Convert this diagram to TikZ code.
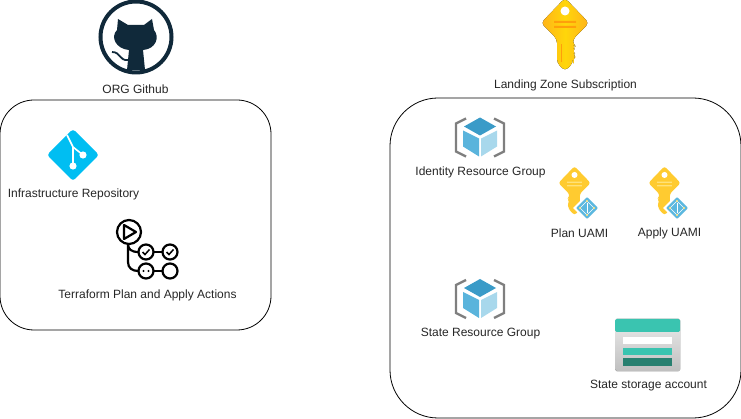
\documentclass[tikz,border=0pt]{standalone}
\usepackage{fontspec}
\setmainfont{Liberation Sans}
\definecolor{catnavy}{HTML}{10293A}
\definecolor{gitblue}{HTML}{00BEF2}
\definecolor{keyorange}{HTML}{FFB21A}
\definecolor{keyyellow}{HTML}{FFD60A}
\definecolor{keystripe}{HTML}{FF9F0A}
\definecolor{uamigold}{HTML}{FFCB30}
\definecolor{uamistripe}{HTML}{FFE27A}
\definecolor{badgeblue}{HTML}{5CB8DF}
\definecolor{cubetop}{HTML}{3A9BC8}
\definecolor{cubeleft}{HTML}{5AB4DC}
\definecolor{cuberight}{HTML}{A8D8EC}
\definecolor{bracketgray}{HTML}{7F7F7F}
\definecolor{storeteal}{HTML}{3AC4B0}
\definecolor{storedark}{HTML}{288070}
\begin{document}
\begin{tikzpicture}[
		x=1pt, y=-1pt,
		groupbox/.style={draw, line width=0.8pt, rounded corners=#1, inner sep=0pt, outer sep=0pt},
		caption/.style={font=\fontsize{12}{14}\selectfont, inner sep=0pt, text=black!85},
		pics/catlogo/.style={code={
				\draw[catnavy, line width=4pt] (0,0) circle (35.5);
				\fill[catnavy] (-18,-18) -- (-8,-12) -- (8,-12) -- (16,-18) -- (18,-7)
				.. controls (24,0) and (20,12) .. (7,13) -- (9,33) -- (-9,33) -- (-7,13)
				.. controls (-20,12) and (-26,0) .. (-19,-7) -- cycle;
				\draw[catnavy, line width=1.8pt] (-24,15) .. controls (-15,15) and (-17,24) .. (-8,23);
			}},
		pics/gitlogo/.style={code={
				\fill[gitblue, rounded corners=3pt] (0,-26) -- (26,0) -- (0,26) -- (-26,0) -- cycle;
				\draw[white, line width=1.6pt] (-6,-20) -- (0,-8) -- (0,11) (0,-8) -- (10,0);
				\fill[white] (0,11) circle (3.6) (10,0) circle (3.6);
			}},
		pics/actionslogo/.style={code={
				\begin{scope}[line width=2.2pt, black]
					\draw (0,0) circle (12);
					\draw[line join=round] (-5,-7) -- (7,0) -- (-5,7) -- cycle;
					\draw (17,20) circle (7.5) (41,20) circle (7.5) (17,39) circle (7.5) (41,39) circle (7.5);
					\draw (-1,12) .. controls (-1,17) and (2,20) .. (9.5,20);
					\draw (-1,12) -- (-1,30) .. controls (-1,36) and (3,39) .. (9.5,39);
					\draw (24.5,20) -- (33.5,20) (24.5,39) -- (33.5,39);
				\end{scope}
				\draw[black, line width=1.5pt] (13.5,20) -- (16,22.5) -- (20.5,17.5);
				\draw[black, line width=1.5pt] (37.5,20) -- (40,22.5) -- (44.5,17.5);
				\fill (14.5,39) circle (1.2) (19.5,39) circle (1.2);
			}},
		pics/keylogo/.style n args={3}{code={
				\fill[#1] (0,-25) -- (24,0) -- (8,16) -- (8,21) -- (11,24) -- (7,28)
				-- (11,32) -- (8,37) -- (8,40) -- (0,48) -- (-8,40) -- (-8,16) -- (-24,0) -- cycle;
				\fill[#2] (-11,-2) rectangle (11,0) (-11,3) rectangle (11,5);
				\fill[#3] (-4,21) rectangle (-3,39);
				\fill[white] (0,-12) circle (4.5);
			}},
		pics/badgelogo/.style={code={
				\fill[white] (0,-14) -- (14,0) -- (0,14) -- (-14,0) -- cycle;
				\fill[badgeblue, rounded corners=1pt] (0,-11) -- (11,0) -- (0,11) -- (-11,0) -- cycle;
				\draw[white, line width=0.5pt] (0,-7) -- (7,0) -- (0,7) -- (-7,0) -- cycle;
				\draw[white, line width=0.8pt] (0,-5) -- (0,5);
				\fill[uamistripe] (0,-7) circle (1.2) (7,0) circle (1.2) (0,7) circle (1.2) (-7,0) circle (1.2);
			}},
		pics/cubelogo/.style={code={
				\draw[bracketgray, line width=2.4pt] (-14,-19) -- (-24,-14) -- (-24,14) -- (-14,19);
				\draw[bracketgray, line width=2.4pt] (14,-19) -- (24,-14) -- (24,14) -- (14,19);
				\fill[cubetop] (0,-20) -- (16,-11) -- (0,-2) -- (-16,-11) -- cycle;
				\fill[cubeleft] (-17,-7) -- (-1,1) -- (-1,19) -- (-17,9) -- cycle;
				\fill[cuberight] (17,-7) -- (1,1) -- (1,19) -- (17,9) -- cycle;
			}},
		pics/storelogo/.style={code={
				\fill[top color=black!8, bottom color=black!25, rounded corners=1.5pt] (0,0) rectangle (65,52);
				\fill[storeteal, rounded corners=1.5pt] (0,0) rectangle (65,13);
				\fill[white] (8,18) rectangle (57,25);
				\fill[storeteal] (8,29) rectangle (57,36);
				\fill[storedark] (8,39) rectangle (57,47);
			}}
	]
	\useasboundingbox (0,0) rectangle (741,419);

	% left box
	\node[groupbox=34pt, minimum width=271pt, minimum height=230pt] (orgbox) at (135.5,215) {};
	\pic at (136,37) {catlogo};
	\node[caption] (orgtext) at (135.5,89) {ORG Github};
	\pic at (73,155) {gitlogo};
	\node[caption] (repotext) at (73.5,194.5) {Infrastructure Repository};
	\pic at (129,232) {actionslogo};
	\node[caption] (actionstext) at (147.5,295.5) {Terraform Plan and Apply Actions};

	% right box
	\node[groupbox=48pt, minimum width=351pt, minimum height=320pt] (zonebox) at (565.5,258) {};
	\pic at (565,23) {keylogo={left color=keyorange, right color=keyorange, middle color=keyyellow, rounded corners=4pt}{keystripe}{keystripe}};
	\node[caption] (zonetext) at (565.5,85.5) {Landing Zone Subscription};
	\pic at (480,137.5) {cubelogo};
	\node[caption] (identitytext) at (480.5,172.5) {Identity Resource Group};
	\pic[xscale=-.67, yscale=.67] at (574.5,183) {keylogo={fill=uamigold, rounded corners=2.5pt}{uamistripe}{uamigold}};
	\pic at (587,208) {badgelogo};
	\node[caption] (plantext) at (579.5,233.5) {Plan UAMI};
	\pic[xscale=-.67, yscale=.67] at (664.5,183) {keylogo={fill=uamigold, rounded corners=2.5pt}{uamistripe}{uamigold}};
	\pic at (677,208) {badgelogo};
	\node[caption] (applytext) at (669.5,233.5) {Apply UAMI};
	\pic at (480,299) {cubelogo};
	\node[caption] (statetext) at (480.5,333.5) {State Resource Group};
	\pic at (615,319) {storelogo};
	\node[caption] (storetext) at (648.5,385.5) {State storage account};
\end{tikzpicture}
\end{document}
